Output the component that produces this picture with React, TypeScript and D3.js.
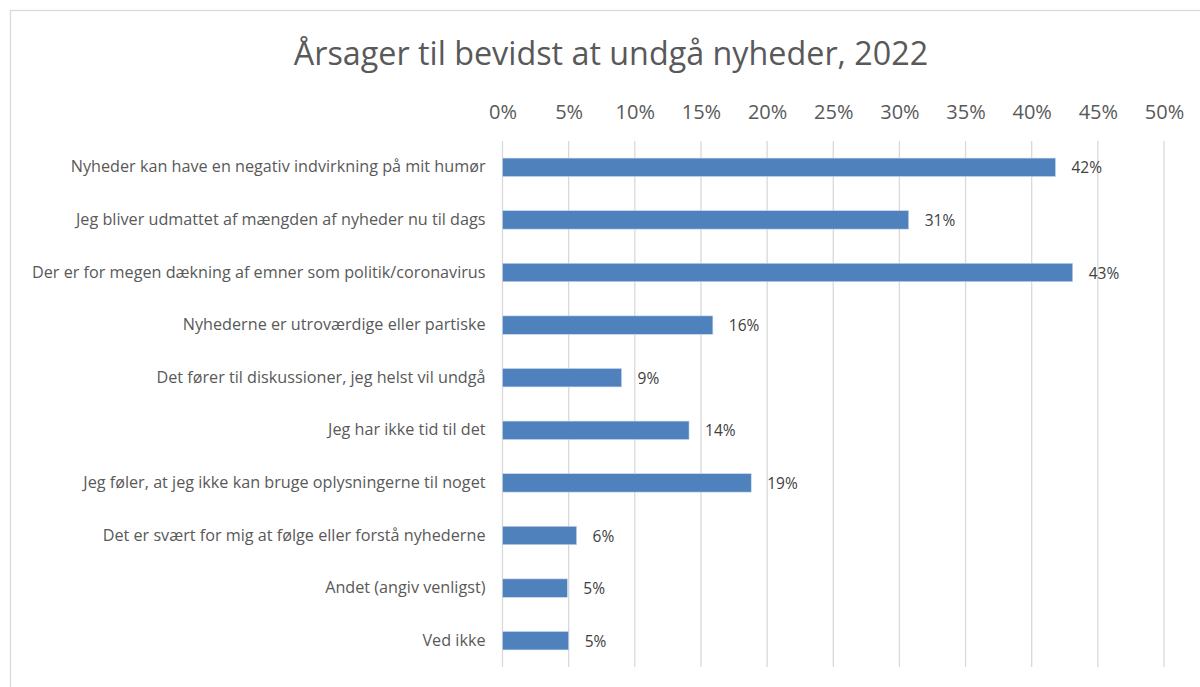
import { useEffect, useRef } from 'react';
import * as d3 from 'd3';

const categories = [
  'Nyheder kan have en negativ indvirkning på mit humør',
  'Jeg bliver udmattet af mængden af nyheder nu til dags',
  'Der er for megen dækning af emner som politik/coronavirus',
  'Nyhederne er utroværdige eller partiske',
  'Det fører til diskussioner, jeg helst vil undgå',
  'Jeg har ikke tid til det',
  'Jeg føler, at jeg ikke kan bruge oplysningerne til noget',
  'Det er svært for mig at følge eller forstå nyhederne',
  'Andet (angiv venligst)',
  'Ved ikke',
];
const values = [41.8, 30.7, 43.1, 15.9, 9.0, 14.1, 18.8, 5.6, 4.9, 5.0];
const tickValues = [0, 5, 10, 15, 20, 25, 30, 35, 40, 45, 50];
const title = 'Årsager til bevidst at undgå nyheder, 2022';

export default function App() {
  const svgRef = useRef<SVGSVGElement>(null);

  useEffect(() => {
    if (!svgRef.current) return;
    const svg = d3.select(svgRef.current);
    svg.selectAll('*').remove();

    const width = 1200;
    const height = 687;
    const margin = { top: 141, left: 502.5 };
    const plotBottom = 667;
    const font = '"Open Sans", "Noto Sans", sans-serif';
    const textColor = '#595959';

    // frame
    svg.append('rect')
      .attr('x', 10.5).attr('y', 10.5)
      .attr('width', width + 20).attr('height', height + 20)
      .attr('fill', '#fff')
      .attr('stroke', '#d9d9d9')
      .attr('stroke-width', 1.3);

    const x = d3.scaleLinear().domain([0, 50]).range([margin.left, 1164]);
    const y = d3.scaleBand<string>()
      .domain(categories)
      .range([margin.top, plotBottom])
      .paddingInner(0.65)
      .paddingOuter(0.325);

    // title
    svg.append('text')
      .attr('x', 611)
      .attr('y', 52)
      .attr('text-anchor', 'middle')
      .attr('dominant-baseline', 'central')
      .style('font-family', font)
      .style('font-size', '32.3px')
      .style('fill', textColor)
      .text(title);

    // grid
    svg.append('g')
      .selectAll('line')
      .data(tickValues)
      .join('line')
      .attr('x1', d => x(d)).attr('x2', d => x(d))
      .attr('y1', margin.top).attr('y2', plotBottom)
      .attr('stroke', '#d9d9d9')
      .attr('stroke-width', 1.3);

    // top axis labels
    const axis = svg.append('g')
      .attr('transform', `translate(0,${margin.top})`)
      .call(d3.axisTop(x).tickValues(tickValues).tickFormat(d => `${d}%`).tickSize(0).tickPadding(22));
    axis.select('.domain').remove();
    axis.selectAll('text')
      .style('font-family', font)
      .style('font-size', '20px')
      .style('fill', textColor);

    // category labels
    const yAxis = svg.append('g')
      .attr('transform', `translate(${margin.left},0)`)
      .call(d3.axisLeft(y).tickSize(0).tickPadding(17));
    yAxis.select('.domain').remove();
    yAxis.selectAll('text')
      .style('font-family', font)
      .style('font-size', '16.2px')
      .style('fill', textColor);

    const rows = categories.map((c, i) => ({ c, v: values[i] }));

    // bars
    svg.append('g')
      .selectAll('rect')
      .data(rows)
      .join('rect')
      .attr('x', x(0))
      .attr('y', d => y(d.c)!)
      .attr('width', d => x(d.v) - x(0))
      .attr('height', y.bandwidth())
      .attr('fill', '#4F81BD')
      .attr('stroke', '#c6d6ea')
      .attr('stroke-width', 0.6);

    // data labels
    svg.append('g')
      .selectAll('text')
      .data(rows)
      .join('text')
      .attr('x', d => x(d.v) + 16)
      .attr('y', d => y(d.c)! + y.bandwidth() / 2)
      .attr('dominant-baseline', 'central')
      .style('font-family', font)
      .style('font-size', '15.5px')
      .style('fill', '#404040')
      .text(d => `${Math.round(d.v)}%`);
  }, []);

  return (
    <svg
      ref={svgRef}
      width={1200}
      height={687}
      style={{ position: 'absolute', left: 0, top: 0, background: '#fff' }}
    />
  );
}
